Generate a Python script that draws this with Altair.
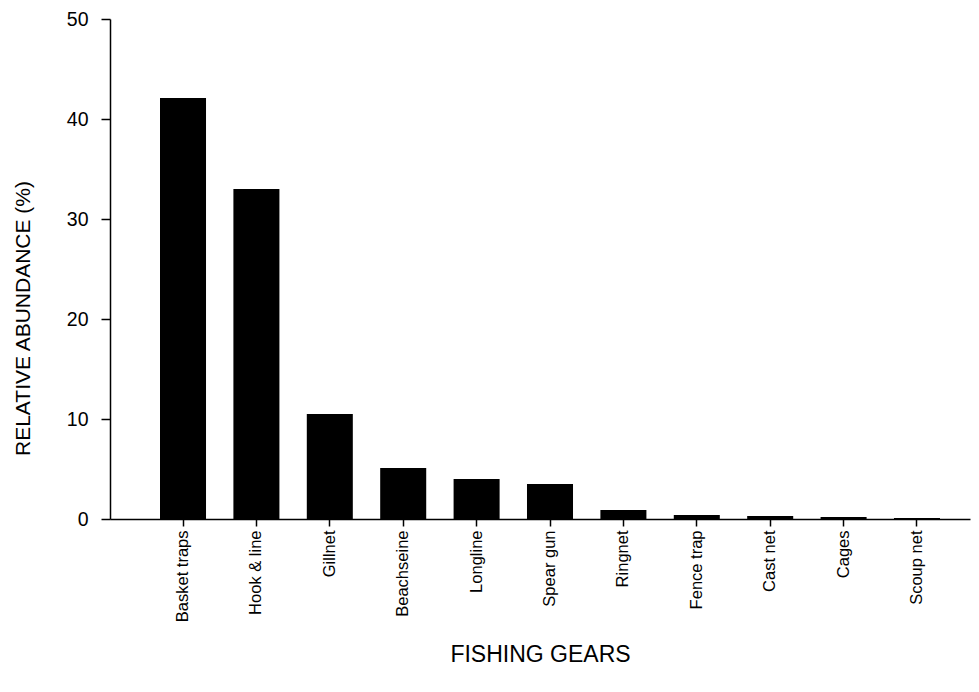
import altair as alt
import pandas as pd

gears = ["Basket traps", "Hook & line", "Gillnet", "Beachseine", "Longline",
         "Spear gun", "Ringnet", "Fence trap", "Cast net", "Cages", "Scoup net"]
abundance = [42.1, 33.0, 10.5, 5.1, 4.0, 3.5, 0.9, 0.4, 0.3, 0.2, 0.1]
y_ticks = [0, 10, 20, 30, 40, 50]

df = pd.DataFrame({"gear": gears, "value": abundance})

FONT = "Liberation Sans"

chart = alt.Chart(df).mark_bar(color="black").encode(
    x=alt.X("gear:N", sort=gears,
            scale=alt.Scale(paddingInner=0.373, paddingOuter=0.545, align=0.625),
            axis=alt.Axis(title="FISHING GEARS", labelAngle=-90, labelFontSize=16.5,
                          labelPadding=4, tickSize=7, titleFontSize=23,
                          titleBaseline="alphabetic", titleY=142, titleFontWeight="normal")),
    y=alt.Y("value:Q", scale=alt.Scale(domain=[0, 50], nice=False),
            axis=alt.Axis(title="RELATIVE ABUNDANCE (%)", values=y_ticks, grid=False,
                          labelFontSize=19.5, labelPadding=13, tickSize=9,
                          titleFontSize=21, titleFontWeight="normal", titleAngle=-90,
                          titleX=-77, titleY=299, titleBaseline="bottom",
                          titleAlign="center")),
).properties(
    width=860, height=500,
    autosize=alt.AutoSizeParams(type="none"),
    padding={"left": 102, "top": 11, "right": 1, "bottom": 150},
).configure_view(stroke=None).configure_axis(
    domainColor="black", domainWidth=1.5, tickColor="black", tickWidth=1.5,
    labelColor="black", titleColor="black", labelFont=FONT, titleFont=FONT,
)

chart.save("out.html", embed_options={"renderer": "svg", "actions": False})
